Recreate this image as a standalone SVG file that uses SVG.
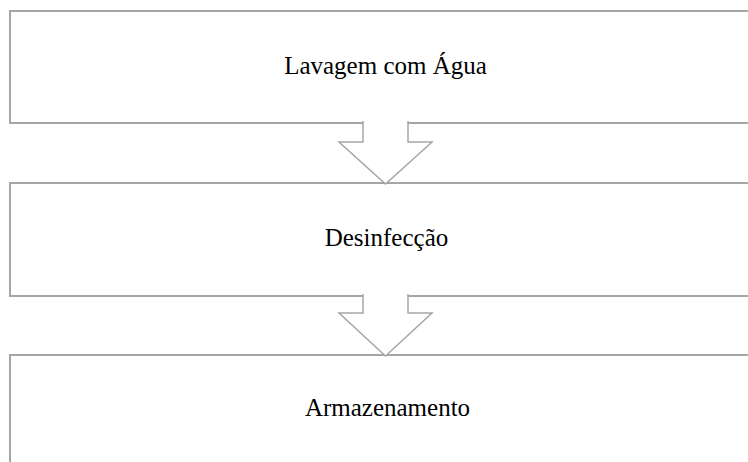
<svg xmlns="http://www.w3.org/2000/svg" width="748" height="462" viewBox="0 0 748 462">
<style>
.box{fill:#fff;stroke:#a6a6a6;stroke-width:2}
.arr{fill:#fff;stroke:#a6a6a6;stroke-width:1.5;stroke-linejoin:miter}
.lbl{font-family:"Liberation Serif","Times New Roman",serif;font-size:25px;fill:#000;text-anchor:middle}
</style>
<rect width="748" height="462" fill="#fff"/>
<g id="node1"><rect class="box" x="10" y="11" width="760" height="112"/><text class="lbl" x="385.5" y="74">Lavagem com Água</text></g>
<g id="node2"><rect class="box" x="10" y="183" width="760" height="113"/><text class="lbl" x="386.5" y="246">Desinfecção</text></g>
<g id="node3"><rect class="box" x="10" y="355" width="760" height="130"/><text class="lbl" x="387.5" y="416">Armazenamento</text></g>
<g id="connectors">
<path class="arr" d="M363,121 V142 H339 L385.5,184 L432,142 H408 V121"/>
<path class="arr" d="M363,294 V313 H339 L385.5,356 L432,313 H408 V294"/>
</g>
</svg>
